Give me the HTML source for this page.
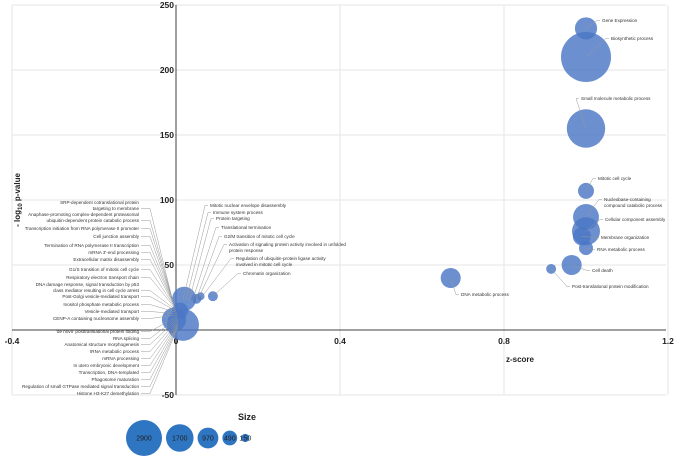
<!DOCTYPE html>
<html><head><meta charset="utf-8"><style>
body{margin:0;background:#fff;}
svg{display:block;font-family:"Liberation Sans",sans-serif;}
</style></head><body>
<svg id="chart" width="675" height="460" viewBox="0 0 675 460"></svg>
<script>
const terms = ["Gene Expression","Biosynthetic process","Small molecule metabolic process","Mitotic cell cycle","Nucleobase-containing compound catabolic process","Cellular component assembly","Membrane organization","RNA metabolic process","Cell death","Post-translational protein modification","DNA metabolic process","Chromatin organization","Cluster A","Cluster B","Cluster C","Cluster D","Cluster E","Cluster F"];
const zscores = [1.0,1.0,1.0,1.0,1.0,1.0,0.99,1.0,0.965,0.915,0.67,0.09,0.017,-0.005,0.02,0.01,0.05,0.06];
const pvalues = [232,210,155,107,87,76,72,63,50,47,40,26,4,8,24,15,24,26];
const sizes = [1100,5600,3300,570,1500,1750,730,440,900,220,900,220,2300,1300,1300,570,220,140];
const xTicks = [-0.4,0.4,0.8,1.2];
const yTicks = [250,200,150,100,50,0,-50];
const legendSizes = [2900,1700,970,490,150];

const NS="http://www.w3.org/2000/svg";
const svg=document.getElementById('chart');
function X(z){return 176+(z)*410;}
function Y(p){return 330-p*1.3;}
function R(s){return 18*Math.sqrt(s/2900);}
function mk(tag,attrs,parent){const e=document.createElementNS(NS,tag);for(const k in attrs)e.setAttribute(k,attrs[k]);(parent||svg).appendChild(e);return e;}

for(const t of yTicks){const g=mk('line',{x1:12,x2:666,y1:Y(t),y2:Y(t),stroke:'#e6e6e6','stroke-width':1});

}
for(const t of [-0.4,0.4,0.8,1.2]){const g=mk('line',{x1:X(t),x2:X(t),y1:Y(250),y2:Y(-50),stroke:'#e6e6e6','stroke-width':1});

}
const xa=mk('line',{x1:12,x2:666,y1:Y(0),y2:Y(0),stroke:'#404040','stroke-width':1});


const ya=mk('line',{x1:X(0),x2:X(0),y1:Y(250),y2:Y(-50),stroke:'#404040','stroke-width':1});


for(const t of yTicks){const e=mk('text',{x:X(0)-2,y:Y(t)+3,'text-anchor':'end','font-size':8.5,'font-weight':'bold',fill:'#222'});e.textContent=t;

}
for(const t of xTicks){const e=mk('text',{x:X(t),y:Y(0)+14,'text-anchor':'middle','font-size':8.5,'font-weight':'bold',fill:'#222'});e.textContent=t;

}
{const e=mk('text',{x:X(0),y:Y(0)+14,'text-anchor':'middle','font-size':8.5,'font-weight':'bold',fill:'#222'});e.textContent='0';

}

const xt=mk('text',{x:520,y:362,'text-anchor':'middle','font-size':8,'font-weight':'bold',fill:'#222'});xt.textContent='z-score';


const yt=mk('text',{x:0,y:0,'text-anchor':'middle','font-size':8,'font-weight':'bold',fill:'#222',transform:'translate(20,200) rotate(-90)'});
yt.innerHTML='- log<tspan font-size="6" dy="2">10</tspan><tspan dy="-2"> p-value</tspan>';



const leftLabels=[["SRP-dependent cotranslational protein","targeting to membrane"],["Anaphase-promoting complex-dependent proteasomal","ubiquitin-dependent protein catabolic process"],["Transcription initiation from RNA polymerase II promoter"],["Cell junction assembly"],["Termination of RNA polymerase II transcription"],["mRNA 3'-end processing"],["Extracellular matrix disassembly"],["G1/S transition of mitotic cell cycle"],["Respiratory electron transport chain"],["DNA damage response, signal transduction by p53","class mediator resulting in cell cycle arrest"],["Post-Golgi vesicle-mediated transport"],["Inositol phosphate metabolic process"],["Vesicle-mediated transport"],["CENP-A containing nucleosome assembly"],["'de novo' posttranslational protein folding"],["RNA splicing"],["Anatomical structure morphogenesis"],["tRNA metabolic process"],["mRNA processing"],["In utero embryonic development"],["Transcription, DNA-templated"],["Phagosome maturation"],["Regulation of small GTPase mediated signal transduction"],["Histone H3-K27 demethylation"]];
const leftY=[204,216,230,238,247,254,261,271,279,286,298,306,313,320,333,340,346,353,360,367,374,381,388,395];
const topLabels=[["Mitotic nuclear envelope disassembly"],["Immune system process"],["Protein targeting"],["Translational termination"],["G2/M transition of mitotic cell cycle"],["Activation of signaling protein activity involved in unfolded","protein response"],["Regulation of ubiquitin-protein ligase activity","involved in mitotic cell cycle"],["Chromatin organization"]];
const topPos=[[210,207],[213,214],[216,220],[221,229],[224,238],[229,246],[236,260],[243,275]];
const topTarget=[[183,300],[186,300],[189,301],[192,302],[196,300],[198,299],[201,298],[213,296]];
const rightLabels=[["Gene Expression"],["Biosynthetic process"],["Small molecule metabolic process"],["Mitotic cell cycle"],["Nucleobase-containing","compound catabolic process"],["Cellular component assembly"],["Membrane organization"],["RNA metabolic process"],["Cell death"],["Post-translational protein modification"],["DNA metabolic process"]];
const rightPos=[[602,22],[611,40],[581,100],[598,180],[604,201],[605,221],[601,239],[597,251],[592,272],[572,288],[461,296]];

function lbl(lines,x,y,anchor,name){const e=mk('text',{x:x,y:y,'text-anchor':anchor,'font-size':4.6,fill:'#333'});
lines.forEach((l,i)=>{const t=mk('tspan',{x:x,dy:i?6:0},e);t.textContent=l;});

}

const g=mk('g',{});
terms.forEach((t,i)=>{const c=mk('circle',{cx:X(zscores[i]),cy:Y(pvalues[i]),r:R(sizes[i]),fill:'#4a76c4','fill-opacity':0.82},g);

});

leftLabels.forEach((l,i)=>{const y=leftY[i];const ty=298+i*1.3;const ly=y-1.5+(l.length>1?6:0);
const ln=mk('line',{x1:141,y1:ly,x2:150,y2:ly,stroke:'#999','stroke-width':0.5});


const ln2=mk('line',{x1:150,y1:ly,x2:172+Math.min(i,14)*0.4,y2:ty,stroke:'#999','stroke-width':0.5});


lbl(l,139,y,'end','cluster-label');});
topLabels.forEach((l,i)=>{const [x,y]=topPos[i];const [tx,ty]=topTarget[i];
const ln=mk('polyline',{points:`${x-2},${y-1.5} ${x-5},${y-1.5} ${tx},${ty}`,fill:'none',stroke:'#999','stroke-width':0.5});


lbl(l,x,y,'start','cluster-label');});
rightLabels.forEach((l,i)=>{const [x,y]=rightPos[i];const bx=X(zscores[i]),by=Y(pvalues[i]);
const ln=mk('polyline',{points:`${x-2},${y-1.5} ${x-5},${y-1.5} ${bx},${by}`,fill:'none',stroke:'#999','stroke-width':0.5});


lbl(l,x,y,'start','bubble-label');});

const lt=mk('text',{x:247,y:420,'text-anchor':'middle','font-size':9,'font-weight':'bold',fill:'#222'});lt.textContent='Size';


let lx=126;
legendSizes.forEach((s,i)=>{const r=R(s);const cx=lx+r;
const c=mk('circle',{cx:cx,cy:438,r:r,fill:'#2e75c2'});


const t=mk('text',{x:cx,y:440.5,'text-anchor':'middle','font-size':7,fill:'#222'});t.textContent=s;


lx=cx+r+4;});
</script>
</body></html>
